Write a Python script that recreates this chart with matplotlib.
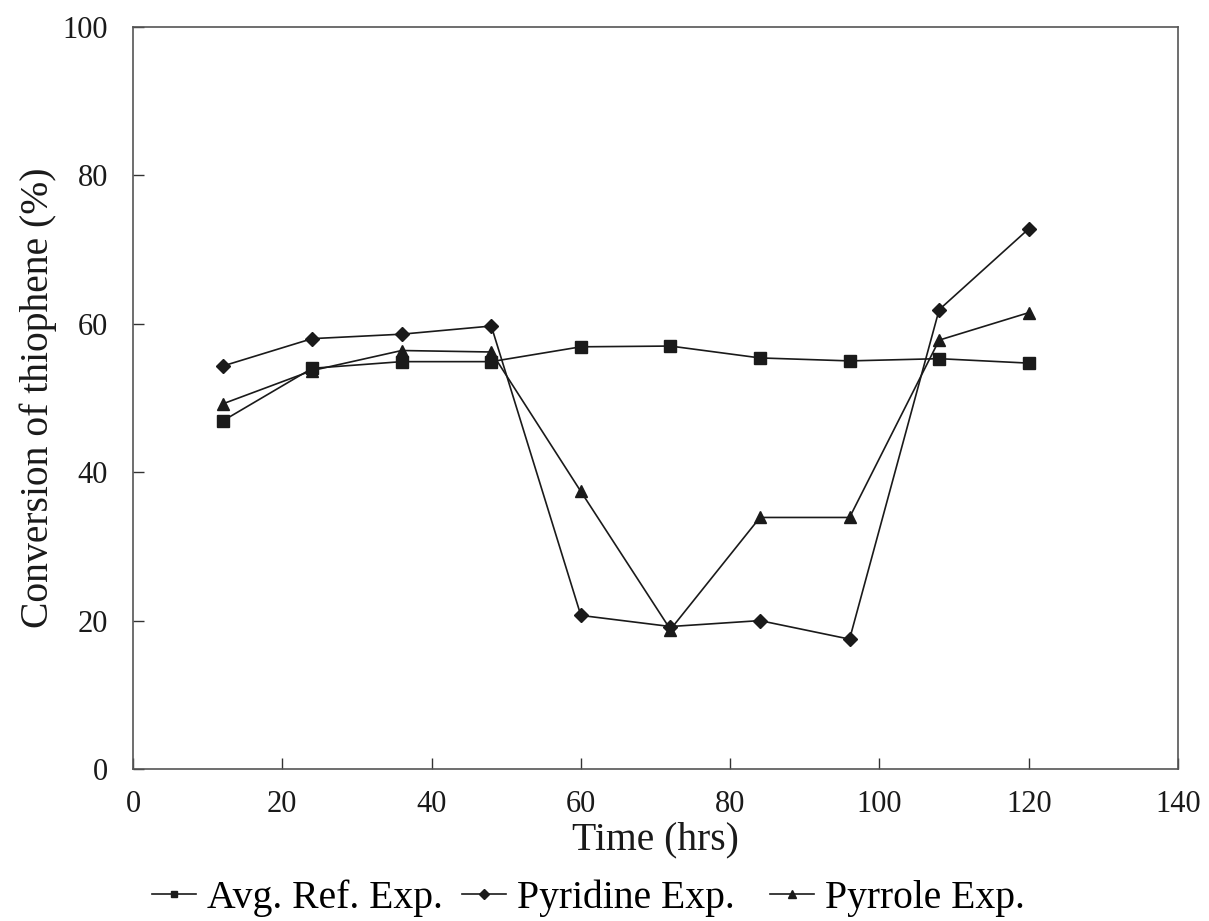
import matplotlib
matplotlib.use('Agg')
import matplotlib.pyplot as plt
from matplotlib.lines import Line2D

plt.rcParams['font.family'] = ['Liberation Serif', 'DejaVu Serif']

# time on stream (hrs)
time_hrs = [12, 24, 36, 48, 60, 72, 84, 96, 108, 120]

# conversion of thiophene (%)
avg_ref = [46.9, 54.0, 54.9, 54.9, 56.9, 57.0, 55.4, 55.0, 55.3, 54.7]
pyridine = [54.3, 58.0, 58.6, 59.7, 20.7, 19.2, 20.0, 17.5, 61.9, 72.8]
pyrrole = [49.2, 53.7, 56.4, 56.2, 37.4, 18.8, 33.9, 33.9, 57.8, 61.5]

series_names = ['Avg. Ref. Exp.', 'Pyridine Exp.', 'Pyrrole Exp.']
series_markers = ['s', 'D', '^']

fig = plt.figure(figsize=(12.09, 9.21), dpi=100)
ax = fig.add_axes([133 / 1209, 1 - 769 / 921, 1045 / 1209, 742 / 921])

ax.plot(time_hrs, avg_ref, color='#1a1a1a', marker='s', markersize=8, linewidth=1.2)
ax.plot(time_hrs, pyridine, color='#1a1a1a', marker='D', markersize=7, linewidth=1.2)
ax.plot(time_hrs, pyrrole, color='#1a1a1a', marker='^', markersize=9, linewidth=1.2)

ax.set_xlim(0, 140)
ax.set_ylim(0, 100)
ax.set_xticks(range(0, 141, 20))
ax.set_yticks(range(0, 101, 20))
ax.tick_params(direction='in', length=8, width=1, colors='#333333', labelcolor='#1a1a1a',
               labelsize=22)
ax.tick_params(axis='x', pad=15)
ax.tick_params(axis='y', pad=18)
for s in ax.spines.values():
    s.set_color('#555555')
    s.set_linewidth(1.2)

ax.set_xlabel('Time (hrs)', fontsize=28.5, color='#1a1a1a')
ax.xaxis.set_label_coords(0.5, -0.07)
ax.set_ylabel('Conversion of thiophene (%)', fontsize=28.5, color='#1a1a1a')
ax.yaxis.set_label_coords(-0.073, 0.5)

# legend entries placed one by one along the bottom, like the original
legend_x = [152, 462, 770]
for name, mk, lx in zip(series_names, series_markers, legend_x):
    h = Line2D([], [], color='#1a1a1a', linewidth=1.2, marker=mk,
               markersize=5 if mk != '^' else 6)
    fig.legend([h], [name], loc='center left',
               bbox_to_anchor=(lx / 1209, 1 - 898 / 921), frameon=False,
               fontsize=28.5, handlelength=1.1, handletextpad=0.3,
               borderpad=0, borderaxespad=0)

fig.savefig('out.png', dpi=100)
